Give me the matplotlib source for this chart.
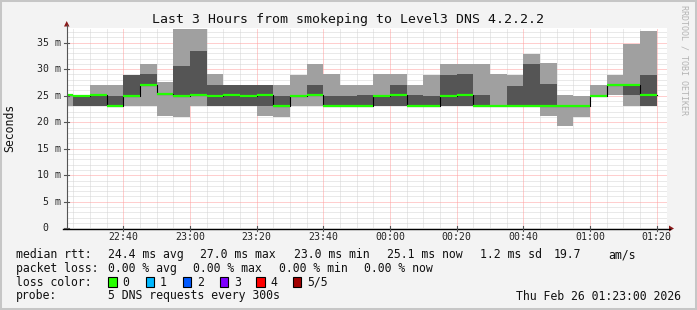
import matplotlib
matplotlib.use("Agg")
import matplotlib.pyplot as plt
from matplotlib.lines import Line2D
from matplotlib.patches import Rectangle, Polygon

# 5 pings per step, sorted: min, 2nd, median, 4th, max (ms)
bin_start = ["22:20", "22:25", "22:30", "22:35", "22:40", "22:45", "22:50", "22:55",
             "23:00", "23:05", "23:10", "23:15", "23:20", "23:25", "23:30", "23:35",
             "23:40", "23:45", "23:50", "23:55", "00:00", "00:05", "00:10", "00:15",
             "00:20", "00:25", "00:30", "00:35", "00:40", "00:45", "00:50", "00:55",
             "01:00", "01:05", "01:10", "01:15"]
ping_min = [23.0, 23.0, 23.0, 23.0, 23.0, 23.0, 21.2, 21.0,
            23.0, 23.0, 23.0, 23.0, 21.2, 21.0, 23.0, 23.0,
            23.0, 23.0, 23.0, 23.0, 23.0, 23.0, 23.0, 23.0,
            23.0, 23.0, 23.0, 23.0, 23.0, 21.2, 19.2, 21.0,
            25.0, 25.1, 23.0, 23.0]
ping_lo = [25.1, 23.0, 23.0, 23.0, 25.0, 27.0, 25.3, 25.0,
           25.1, 23.0, 23.0, 23.0, 23.0, 23.0, 25.0, 25.1,
           23.0, 23.0, 23.0, 23.0, 23.0, 23.0, 23.0, 23.0,
           23.0, 23.0, 23.0, 23.0, 23.0, 23.0, 23.0, 23.0,
           25.0, 27.0, 25.1, 23.0]
median = [25.1, 25.0, 25.1, 23.0, 25.0, 27.0, 25.3, 25.0,
          25.1, 25.0, 25.1, 25.0, 25.1, 23.0, 25.0, 25.1,
          23.0, 23.0, 23.0, 25.0, 25.1, 23.0, 23.0, 25.0,
          25.1, 23.0, 23.0, 23.0, 23.0, 23.0, 23.0, 23.0,
          25.0, 27.0, 27.0, 25.1]
ping_hi = [25.1, 25.0, 25.1, 25.0, 28.9, 29.1, 25.3, 30.6,
           33.4, 27.0, 27.0, 27.0, 27.0, 25.0, 25.0, 27.0,
           25.0, 25.0, 25.1, 25.0, 27.0, 25.1, 25.0, 28.9,
           29.0, 25.1, 23.0, 26.8, 31.0, 27.2, 23.0, 23.0,
           25.0, 27.0, 27.0, 28.9]
ping_max = [25.1, 25.0, 27.0, 27.0, 28.9, 31.0, 27.5, 37.6,
            37.6, 29.1, 27.0, 27.0, 27.0, 27.0, 28.9, 31.0,
            29.0, 27.0, 27.0, 29.0, 29.0, 27.0, 28.9, 31.0,
            31.0, 31.0, 29.0, 28.9, 32.9, 31.1, 25.1, 25.0,
            27.0, 28.9, 34.7, 37.25]

time_labels = ["22:40", "23:00", "23:20", "23:40", "00:00", "00:20", "00:40", "01:00", "01:20"]
y_ticks = [0, 5, 10, 15, 20, 25, 30, 35]

rtt_items = ["24.4 ms avg", "27.0 ms max", "23.0 ms min", "25.1 ms now", "1.2 ms sd", "19.7", "am/s"]
loss_items = ["0.00 % avg", "0.00 % max", "0.00 % min", "0.00 % now"]
loss_names = ["0", "1", "2", "3", "4", "5/5"]
loss_colors = ["#26ff00", "#00b8ff", "#0059ff", "#7e00ff", "#ff0000", "#a10000"]

W, H = 697, 310
T0 = 22 * 60 + 23  # graph starts 22:23


def minutes(hhmm):
    h, m = map(int, hhmm.split(":"))
    t = h * 60 + m
    if h < 12:
        t += 1440
    return t - T0


def fx(x):
    return x / W


def fy(y):
    return 1 - y / H


MONO = "DejaVu Sans Mono"
BG = "#f3f3f3"

fig = plt.figure(figsize=(W / 100, H / 100), dpi=100, facecolor=BG)
ax = fig.add_axes([fx(66.7), fy(228.3), 600 / W, 200 / H])
ax.set_xlim(0, 180)
ax.set_ylim(0, 37.7)
ax.set_facecolor("white")
for s in ax.spines.values():
    s.set_visible(False)
ax.set_xticks([])
ax.set_yticks([])

# grid, 1px dotted
dot = dict(lw=0.72, ls=(0, (1, 1)))
for y in range(1, 38):
    if y % 5:
        ax.axhline(y, color="#d4d4d4", zorder=0, **dot)
for x in range(2, 180, 5):
    if (x - 17) % 20:
        ax.axvline(x, color="#d4d4d4", zorder=0, **dot)
for y in y_ticks[1:]:
    ax.axhline(y, color="#ff9f9f", zorder=1, **dot)
for lab in time_labels:
    ax.axvline(minutes(lab), color="#ff9f9f", zorder=1, **dot)

# smoke
starts = [minutes(t) for t in bin_start]
outer_h = [b - a for a, b in zip(ping_min, ping_max)]
inner_h = [b - a for a, b in zip(ping_lo, ping_hi)]
ax.bar(starts, outer_h, width=5, bottom=ping_min, align="edge",
       color="#a0a0a0", linewidth=0, zorder=2)
ax.bar(starts, inner_h, width=5, bottom=ping_lo, align="edge",
       color="#555555", linewidth=0, zorder=3)

# median
edges = starts + [starts[-1] + 5]
ax.step(edges, median + [median[-1]], where="post", color="black", lw=0.8, zorder=4)
ax.hlines(median, starts, [s + 5 for s in starts], colors="#22ff00", lw=1.6, zorder=5)


# axes lines, arrows, ticks (figure pixel coords)
def pline(xs, ys, color, lw=0.8):
    fig.add_artist(Line2D([fx(v) for v in xs], [fy(v) for v in ys], color=color, lw=lw))


pline([66.7, 66.7], [228.8, 25], "#555555")
pline([63, 670], [228.5, 228.5], "black", lw=1.0)
fig.add_artist(Polygon([(fx(64), fy(26.5)), (fx(69.5), fy(26.5)), (fx(66.7), fy(21))],
                       closed=True, color="#8b1a1a", lw=0))
fig.add_artist(Polygon([(fx(669), fy(225.5)), (fx(669), fy(231.5)), (fx(674), fy(228.5))],
                       closed=True, color="#8b1a1a", lw=0))

px_per_ms = 200 / 37.7
for v in y_ticks:
    yp = 228.3 - v * px_per_ms
    pline([64, 69], [yp, yp], "#555555")
    lab = f"{v} m" if v else "0\u00a0\u00a0"
    fig.text(fx(60.5), fy(yp), lab, ha="right", va="center",
             fontsize=7.1, family=MONO, color="#222222")

for lab in time_labels:
    xp = 66.7 + minutes(lab) * 600 / 180
    pline([xp, xp], [226, 231], "#555555")
    fig.text(fx(xp), fy(237.5), lab, ha="center", va="center",
             fontsize=7.1, family=MONO, color="#222222")

# titles
fig.text(fx(348), fy(19), "Last 3 Hours from smokeping to Level3 DNS 4.2.2.2",
         ha="center", va="center", fontsize=9.5, family=MONO, color="#111111")
fig.text(fx(10), fy(128), "Seconds", rotation=90, ha="center", va="center",
         fontsize=8.3, family=MONO, color="#111111")
fig.text(fx(684), fy(60), "RRDTOOL / TOBI OETIKER", rotation=-90, ha="center",
         va="center", fontsize=6, family=MONO, color="#b4b4b4")

# legend
leg = dict(fontsize=8.3, family=MONO, color="#111111", va="center", ha="left")
fig.text(fx(16), fy(254.5), "median rtt:", **leg)
for xp, item in zip([107.6, 200, 293.5, 386.5, 479.5, 554, 608], rtt_items):
    fig.text(fx(xp), fy(254.5), item, **leg)
fig.text(fx(16), fy(268.5), "packet loss:", **leg)
for xp, item in zip([107.6, 193, 279, 364.5], loss_items):
    fig.text(fx(xp), fy(268.5), item, **leg)
fig.text(fx(16), fy(282), "loss color:", **leg)
box_x = [108, 145.5, 182.5, 219.5, 256, 292.5]
for bx, name, col in zip(box_x, loss_names, loss_colors):
    fig.add_artist(Rectangle((fx(bx), fy(287)), 8.5 / W, 10 / H, facecolor=col,
                             edgecolor="black", lw=0.8))
    fig.text(fx(bx + 14.5), fy(282), name, **leg)
fig.text(fx(16), fy(296), "probe:", **leg)
fig.text(fx(107.6), fy(296), "5 DNS requests every 300s", **leg)
fig.text(fx(681), fy(296), "Thu Feb 26 01:23:00 2026", fontsize=8.3, family=MONO,
         color="#111111", va="center", ha="right")

# outer frame
fig.add_artist(Rectangle((0, 0), 1, 1, fill=False, edgecolor="#c6c6c6", lw=2.9,
                         transform=fig.transFigure))

fig.savefig("out.png", dpi=100, facecolor=BG)
